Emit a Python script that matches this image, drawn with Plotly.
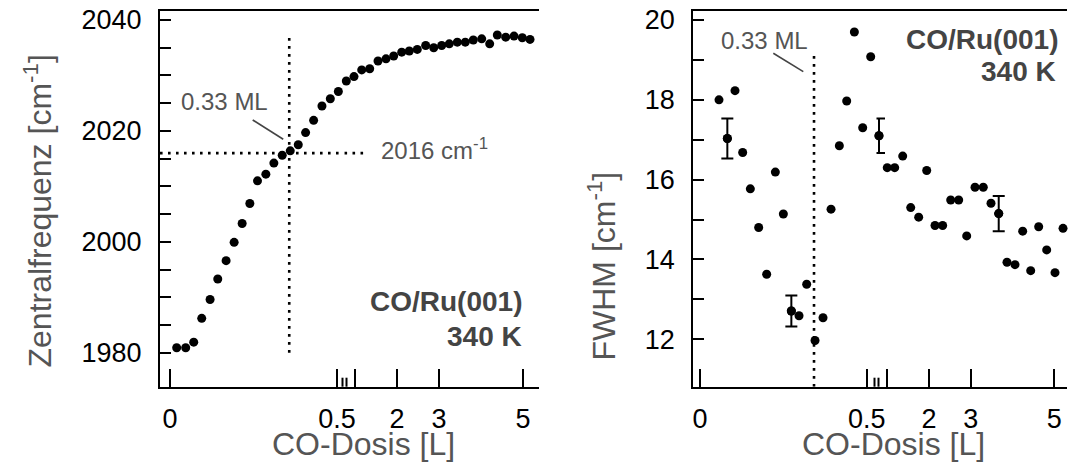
import plotly.graph_objects as go

# ---------------- data ----------------
# left panel: centre frequency vs CO dose
dose_f = [0.020, 0.047, 0.071, 0.095, 0.120, 0.143, 0.168, 0.192, 0.216, 0.239,
          0.262, 0.287, 0.311, 0.336, 0.360, 0.384, 0.406, 0.430, 0.455, 0.480,
          0.504, 0.793, 0.976, 1.160, 1.350, 1.548, 1.738, 1.921, 2.112, 2.293,
          2.483, 2.683, 2.874, 3.064, 3.245, 3.436, 3.626, 3.817, 4.017, 4.207,
          4.388, 4.588, 4.786, 4.983, 5.167]
freq = [1980.9, 1980.9, 1981.9, 1986.2, 1989.6, 1993.3, 1996.6, 1999.9, 2003.3, 2006.9,
        2011.0, 2012.2, 2014.2, 2015.6, 2016.4, 2017.5, 2019.7, 2021.9, 2024.5, 2025.8,
        2027.1, 2029.0, 2029.8, 2031.0, 2031.2, 2032.6, 2033.0, 2033.5, 2034.2, 2034.4,
        2034.7, 2035.4, 2035.0, 2035.4, 2035.7, 2036.0, 2036.0, 2036.4, 2036.6, 2035.7,
        2037.3, 2036.9, 2037.1, 2036.8, 2036.5]

# right panel: FWHM vs CO dose
dose_w = [0.057, 0.082, 0.105, 0.128, 0.151, 0.176, 0.200, 0.226, 0.250, 0.274,
          0.297, 0.320, 0.345, 0.369, 0.393, 0.418, 0.440, 0.463, 0.488, 0.512,
          0.802, 1.000, 1.178, 1.370, 1.562, 1.753, 1.945, 2.144, 2.327, 2.520,
          2.711, 2.903, 3.102, 3.300, 3.485, 3.670, 3.868, 4.060, 4.244, 4.436,
          4.627, 4.819, 5.018, 5.210]
fwhm = [18.00, 17.03, 18.23, 16.68, 15.77, 14.80, 13.63, 16.19, 15.14, 12.71,
        12.59, 13.38, 11.97, 12.54, 15.26, 16.85, 17.97, 19.70, 17.30, 19.08,
        17.10, 16.30, 16.30, 16.59, 15.30, 15.06, 16.23, 14.85, 14.85, 15.49,
        15.49, 14.59, 15.81, 15.81, 15.41, 15.15, 13.93, 13.87, 14.71, 13.72,
        14.82, 14.24, 13.67, 14.78]
fwhm_err = [0, 0.50, 0, 0, 0, 0, 0, 0, 0, 0.39,
            0, 0, 0, 0, 0, 0, 0, 0, 0, 0,
            0.43, 0, 0, 0, 0, 0, 0, 0, 0, 0,
            0, 0, 0, 0, 0, 0.44, 0, 0, 0, 0,
            0, 0, 0, 0]

ml_dose_f = 0.357      # 0.33 ML marker, left panel
ml_dose_w = 0.342      # 0.33 ML marker, right panel
freq_033 = 2016        # cm-1
hline_end = 1.28       # end of horizontal dotted line [L]

x_left_ticks = [0, 0.5]
x_left_text = ["0", "0.5"]
x_right_ticks = [1, 2, 3, 5]
x_right_text = ["", "2", "3", "5"]
yf_ticks = list(range(1980, 2041, 5))
yf_text = [str(v) if v % 20 == 0 else "" for v in yf_ticks]
yw_ticks = list(range(12, 21))
yw_text = [str(v) if v % 2 == 0 else "" for v in yw_ticks]

BREAK = 0.6

# ---------------- geometry ----------------
W, H = 1070, 471
def px(x):
    return x / W
def py(y):
    return 1 - y / H

FONT = "Liberation Sans, Arial, Helvetica, sans-serif"
GREY = "#555555"
TOP, BOT = 11, 386.7
ydom = [py(BOT), py(TOP)]

# left panel: left edge, break, right edge (pixels)
L0, LB, L1 = 160, 344.5, 539
# right panel
R0, RB, R1 = 693.3, 876.5, 1067

fig = go.Figure()

def split(xs, ys, errs=None):
    a = [(x, y, (errs[i] if errs else 0)) for i, (x, y) in enumerate(zip(xs, ys))]
    lo = [t for t in a if t[0] <= BREAK]
    hi = [t for t in a if t[0] > BREAK]
    return lo, hi

mk = dict(color="black", size=9)

# left panel points
lo, hi = split(dose_f, freq)
fig.add_trace(go.Scatter(x=[t[0] for t in lo], y=[t[1] for t in lo], mode="markers",
                         marker=mk, xaxis="x", yaxis="y", cliponaxis=False))
fig.add_trace(go.Scatter(x=[t[0] for t in hi], y=[t[1] for t in hi], mode="markers",
                         marker=mk, xaxis="x2", yaxis="y", cliponaxis=False))

# right panel points
lo, hi = split(dose_w, fwhm, fwhm_err)
for seg, xa in ((lo, "x3"), (hi, "x4")):
    fig.add_trace(go.Scatter(x=[t[0] for t in seg], y=[t[1] for t in seg], mode="markers",
                             marker=mk, xaxis=xa, yaxis="y2", cliponaxis=False))
    e = [t for t in seg if t[2] > 0]
    fig.add_trace(go.Scatter(x=[t[0] for t in e], y=[t[1] for t in e], mode="markers",
                             marker=mk, xaxis=xa, yaxis="y2", cliponaxis=False,
                             error_y=dict(type="data", array=[t[2] for t in e],
                                          color="black", thickness=2, width=6)))

# axis ranges (derived from the reference frame geometry)
xr_l = [(L0 - 170) / 334, (LB - 170) / 334]
xr_l2 = [2 + (LB - 397) / 42, 2 + (L1 - 397) / 42]
yr_f = [1980 - (BOT - 352.7) / 5.545, 2040 + (20 - TOP) / 5.545]
xr_r = [(R0 - 700) / 333.4, (RB - 700) / 333.4]
xr_r2 = [2 + (RB - 929) / 41.75, 2 + (R1 - 929) / 41.75]
yr_w = [12 - (BOT - 339.3) / 39.91, 20 + (20 - TOP) / 39.91]

dot = dict(color="black", width=2.6, dash="2.6px,5.4px")
# dotted lines left panel
fig.add_trace(go.Scatter(x=[ml_dose_f, ml_dose_f], y=[1980, 2036.8], mode="lines",
                         line=dot, xaxis="x", yaxis="y"))
fig.add_trace(go.Scatter(x=[xr_l[0], xr_l[1]], y=[freq_033, freq_033], mode="lines",
                         line=dot, xaxis="x", yaxis="y"))
fig.add_trace(go.Scatter(x=[xr_l2[0], hline_end], y=[freq_033, freq_033], mode="lines",
                         line=dot, xaxis="x2", yaxis="y"))
# dotted line right panel
fig.add_trace(go.Scatter(x=[ml_dose_w, ml_dose_w], y=[yr_w[0], 19.12], mode="lines",
                         line=dot, xaxis="x3", yaxis="y2"))
# leader lines
lead = dict(color="#444444", width=1.6)
fig.add_trace(go.Scatter(x=[0.2476, 0.339], y=[2021.97, 2018.49], mode="lines",
                         line=lead, xaxis="x", yaxis="y"))
fig.add_trace(go.Scatter(x=[0.2199, 0.3098], y=[19.166, 18.705], mode="lines",
                         line=lead, xaxis="x3", yaxis="y2"))

tickfont = dict(family=FONT, size=27, color="black")
frame = dict(showline=True, linecolor="black", linewidth=2)
xcommon = dict(frame, showgrid=False, zeroline=False, mirror=True, ticks="inside",
               ticklen=18, tickwidth=2, tickcolor="black", tickmode="array",
               tickfont=tickfont, ticklabelstandoff=7, automargin=False,
               ticklabeloverflow="allow")
ycommon = dict(frame, showgrid=False, zeroline=False, ticks="inside",
               ticklen=11, tickwidth=2, tickcolor="black", tickmode="array",
               tickfont=tickfont, ticklabelstandoff=11, domain=ydom, automargin=False,
               ticklabeloverflow="allow")
# right-hand frame sides: tick-less y axes on the right segments
yside = dict(frame, showgrid=False, zeroline=False, ticks="", showticklabels=False,
             domain=ydom, automargin=False, side="right")

fig.update_layout(
    width=W, height=H, margin=dict(l=0, r=0, t=0, b=0, pad=0, autoexpand=False),
    paper_bgcolor="white", plot_bgcolor="rgba(0,0,0,0)", showlegend=False,
    xaxis=dict(xcommon, domain=[px(L0), px(LB)], range=xr_l, anchor="y",
               tickvals=x_left_ticks, ticktext=x_left_text),
    xaxis2=dict(xcommon, domain=[px(LB), px(L1)], range=xr_l2, anchor="y",
                tickvals=x_right_ticks, ticktext=x_right_text),
    yaxis=dict(ycommon, range=yr_f, anchor="x", tickvals=yf_ticks, ticktext=yf_text),
    yaxis3=dict(yside, range=yr_f, anchor="x2", overlaying="y"),
    xaxis3=dict(xcommon, domain=[px(R0), px(RB)], range=xr_r, anchor="y2",
                tickvals=x_left_ticks, ticktext=x_left_text),
    xaxis4=dict(xcommon, domain=[px(RB), px(R1)], range=xr_r2, anchor="y2",
                tickvals=x_right_ticks, ticktext=x_right_text),
    yaxis2=dict(ycommon, range=yr_w, anchor="x3", tickvals=yw_ticks, ticktext=yw_text),
    yaxis4=dict(yside, range=yr_w, anchor="x4", overlaying="y2"),
)

# axis-break marks
shapes = []
for xb in (LB - 2, LB + 2, RB - 2, RB + 2):
    shapes.append(dict(type="line", xref="paper", yref="paper", x0=px(xb), x1=px(xb),
                       y0=py(BOT), y1=py(BOT - 9), line=dict(color="black", width=2)))
fig.update_layout(shapes=shapes)

def ann(text, x, y, size, xanchor="center", yanchor="middle", bold=False, angle=0,
        color=GREY):
    t = f"<b>{text}</b>" if bold else text
    fig.add_annotation(text=t, x=px(x), y=py(y), xref="paper", yref="paper",
                       showarrow=False, xanchor=xanchor, yanchor=yanchor,
                       textangle=angle, font=dict(family=FONT, size=size, color=color))

# axis titles
ann("Zentralfrequenz [cm<sup>-1</sup>]", 37, 370, 32, yanchor="bottom", angle=-90)
ann("FWHM [cm<sup>-1</sup>]", 601, 363, 32, yanchor="bottom", angle=-90)
ann("CO-Dosis [L]", 363, 444, 32)
ann("CO-Dosis [L]", 893, 444, 32)

# labels
ann("0.33 ML", 224, 102, 24)
ann("2016 cm<sup>-1</sup>", 379, 149, 24, xanchor="left")
ann("CO/Ru(001)", 524, 301, 28, xanchor="right", bold=True, color="#444444")
ann("340 K", 524, 336, 28, xanchor="right", bold=True, color="#444444")
ann("0.33 ML", 764, 41, 24)
ann("CO/Ru(001)", 1060, 40, 28, xanchor="right", bold=True, color="#444444")
ann("340 K", 1058, 72, 28, xanchor="right", bold=True, color="#444444")

fig.write_html(
    "out.html",
    config={"displayModeBar": False},
    post_script="document.body.style.margin='0';document.body.style.overflow='hidden';",
)
